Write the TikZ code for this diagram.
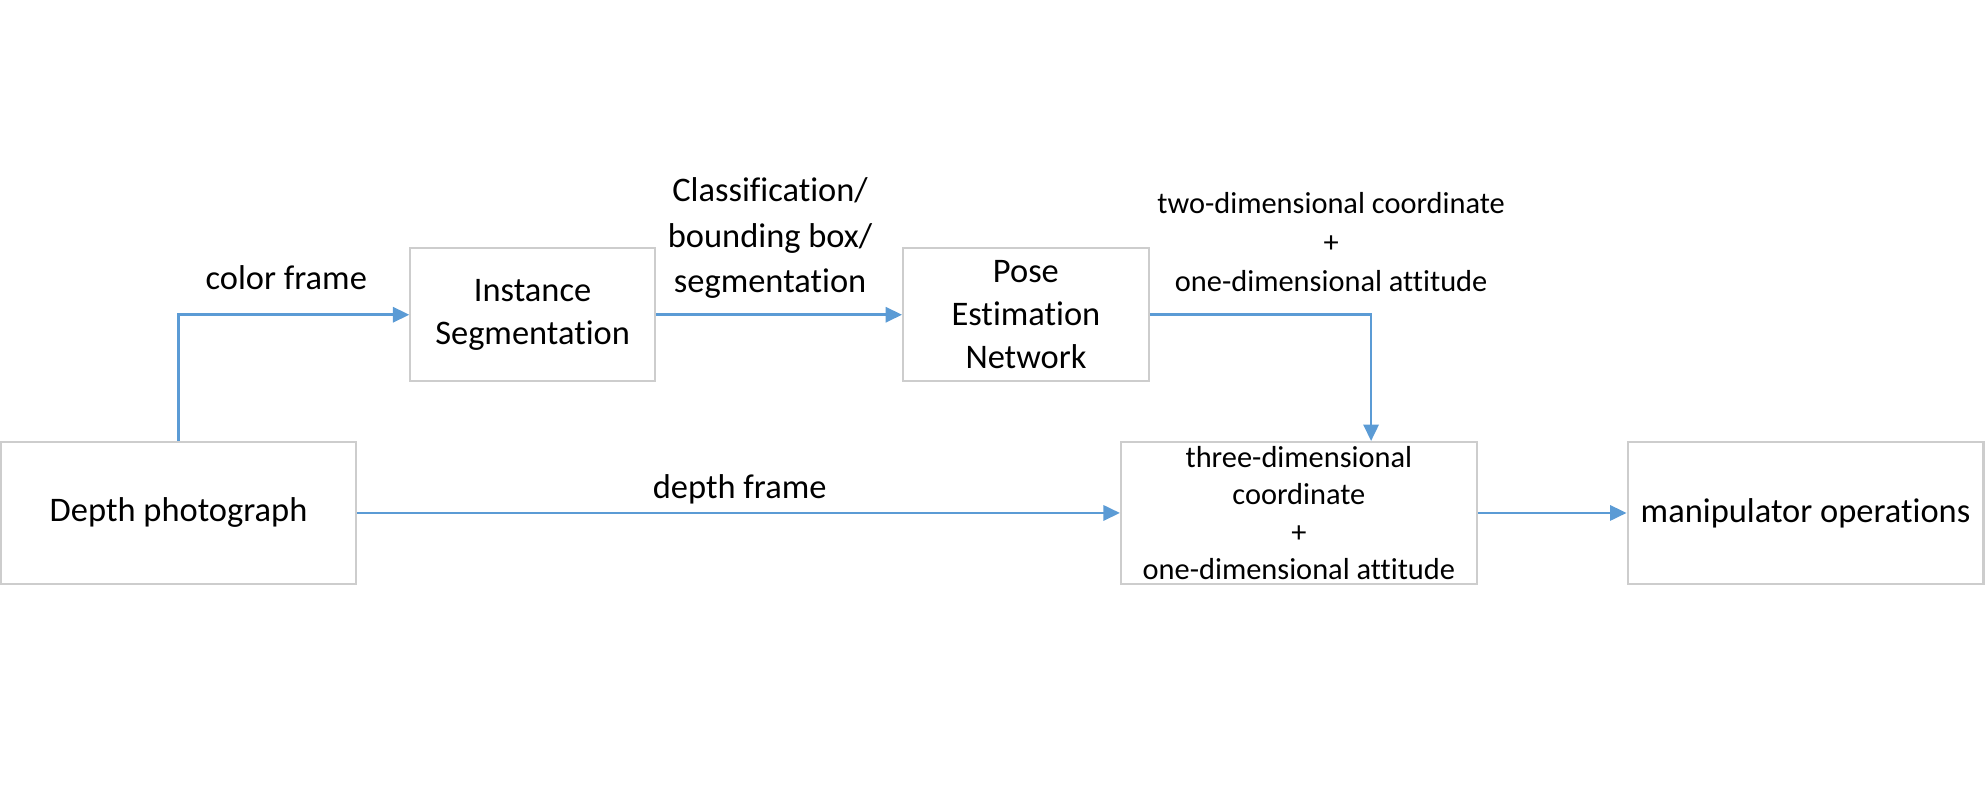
\documentclass[tikz,border=0pt]{standalone}
\usepackage{fontspec}
\setmainfont{Carlito}[Ligatures=NoCommon]
\usetikzlibrary{arrows.meta}
\definecolor{flowblue}{RGB}{91,155,213}
\definecolor{boxgray}{RGB}{205,205,205}

\begin{document}
\begin{tikzpicture}[x=0.5pt,y=-0.5pt,
                    block/.style={draw=boxgray, line width=0.8pt, inner sep=0pt, align=center,
                                  font=\fontsize{13.6}{17}\selectfont},
                    flow/.style={draw=flowblue, line width=1pt, -{Triangle[length=6.5pt,width=6pt]}},
                    lbl/.style={align=center, font=\fontsize{13.6}{18}\selectfont},
                    small/.style={align=center, font=\fontsize{12}{15.3}\selectfont}]
                    \useasboundingbox (0,0) rectangle (1568,619);

                    % boxes
                    \node[block, minimum width=140pt, minimum height=56pt] (depth) at (141,405) {Depth photograph};
                    \node[block, minimum width=96.5pt, minimum height=52.5pt] (inst) at (420.5,248.5) {Instance\\Segmentation};
                    \node[block, minimum width=97pt, minimum height=52.5pt] (pose) at (810,248.5) {Pose\\Estimation\\Network};
                    \node[block, minimum width=140.5pt, minimum height=56pt, font=\fontsize{12}{14.8}\selectfont] (three) at (1025.5,405) {three-dimensional\\coordinate\\+\\one-dimensional attitude};
                    \node[block, minimum width=140.5pt, minimum height=56pt] (manip) at (1425.5,405) {manipulator operations};

                    % connectors
                    \draw[flow] (depth.north) |- (inst.west);
                    \draw[flow] (inst.east) -- (pose.west);
                    \draw[flow] (pose.east) -| ([xshift=28.5pt]three.north);
                    \draw[flow] (depth.east) -- (three.west);
                    \draw[flow] (three.east) -- (manip.west);

                    % labels
                    \node[lbl] (colorlbl) at (226,219) {color frame};
                    \node[lbl] (depthlbl) at (584,386) {depth frame};
                    \node[lbl] (classlbl) at (608,188) {Classification/\\bounding box/\\segmentation};
                    \node[small] (twolbl) at (1051,191) {two-dimensional coordinate\\+\\one-dimensional attitude};
                \end{tikzpicture}
\end{document}
